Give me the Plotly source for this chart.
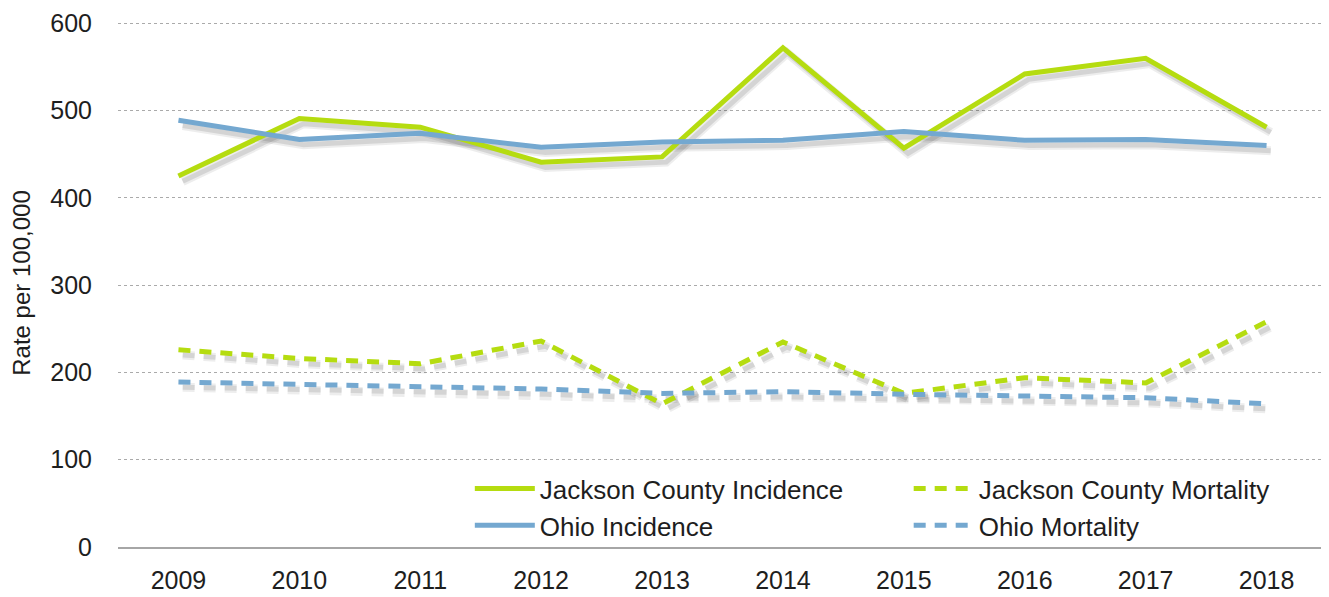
import plotly.graph_objects as go

years = ["2009", "2010", "2011", "2012", "2013", "2014", "2015", "2016", "2017", "2018"]
jackson_incidence = [425, 491, 481, 441, 447, 572, 457, 542, 560, 481]
ohio_incidence = [489, 467, 474, 458, 464, 466, 476, 466, 467, 460]
jackson_mortality = [226, 216, 210, 236, 164, 235, 176, 194, 188, 258]
ohio_mortality = [189, 186, 183, 181, 176, 178, 175, 173, 171, 164]

GREEN = "#b5dc10"
BLUE = "#74a8d0"
FONT = "Liberation Sans"
TXT = "#1e1e1e"

series = [
    ("Jackson County Incidence", jackson_incidence, GREEN, "solid", "legend"),
    ("Ohio Incidence", ohio_incidence, BLUE, "solid", "legend"),
    ("Jackson County Mortality", jackson_mortality, GREEN, "12px,9px", "legend2"),
    ("Ohio Mortality", ohio_mortality, BLUE, "12px,9px", "legend2"),
]

fig = go.Figure()

# soft shadows drawn on a slightly shifted, hidden pair of axes
for name, vals, color, dash, lg in series:
    fig.add_trace(go.Scatter(
        x=years, y=vals, mode="lines", xaxis="x", yaxis="y",
        line=dict(color="rgba(0,0,0,0.07)", width=9, dash=dash),
        showlegend=False, hoverinfo="skip"))
    fig.add_trace(go.Scatter(
        x=years, y=vals, mode="lines", xaxis="x", yaxis="y",
        line=dict(color="rgba(0,0,0,0.10)", width=5, dash=dash),
        showlegend=False, hoverinfo="skip"))

for name, vals, color, dash, lg in series:
    fig.add_trace(go.Scatter(
        x=years, y=vals, mode="lines", name=name, xaxis="x2", yaxis="y2",
        line=dict(color=color, width=5, dash=dash), legend=lg))

dx = 0.035
dy = 6
YMAX = 605
fig.update_layout(
    width=1321, height=589,
    margin=dict(l=110, r=2, t=11, b=50),
    paper_bgcolor="white", plot_bgcolor="white",
    font=dict(family=FONT, size=25, color=TXT),
    xaxis=dict(type="category", range=[-0.5 - dx, 9.5 - dx], visible=False, showgrid=False),
    yaxis=dict(range=[0 + dy, YMAX + dy], visible=False, showgrid=False),
    xaxis2=dict(type="category", overlaying="x", range=[-0.5, 9.5], showgrid=False,
                showline=True, linecolor="#a6a6a6", linewidth=2, ticks="",
                tickfont=dict(size=25, color=TXT), anchor="y2", side="bottom",
                automargin=False, ticklabelstandoff=10),
    yaxis2=dict(overlaying="y", range=[0, YMAX], tickvals=[0, 100, 200, 300, 400, 500, 600],
                showgrid=True, gridcolor="#aaaaaa",
                griddash="dot", gridwidth=1, zeroline=False, showline=False, ticks="",
                tickfont=dict(size=25, color=TXT), anchor="x2", side="left",
                automargin=False, ticklabelstandoff=25,
                title=dict(text="Rate per 100,000", font=dict(size=24, color=TXT), standoff=15)),
    legend=dict(x=0.291, y=0.155, xanchor="left", yanchor="top", bgcolor="rgba(0,0,0,0)",
                font=dict(size=26, color=TXT), tracegroupgap=0, itemwidth=60),
    legend2=dict(x=0.654, y=0.155, xanchor="left", yanchor="top", bgcolor="rgba(0,0,0,0)",
                 font=dict(size=26, color=TXT), tracegroupgap=0, itemwidth=60),
)

fig.write_html("out.html")
